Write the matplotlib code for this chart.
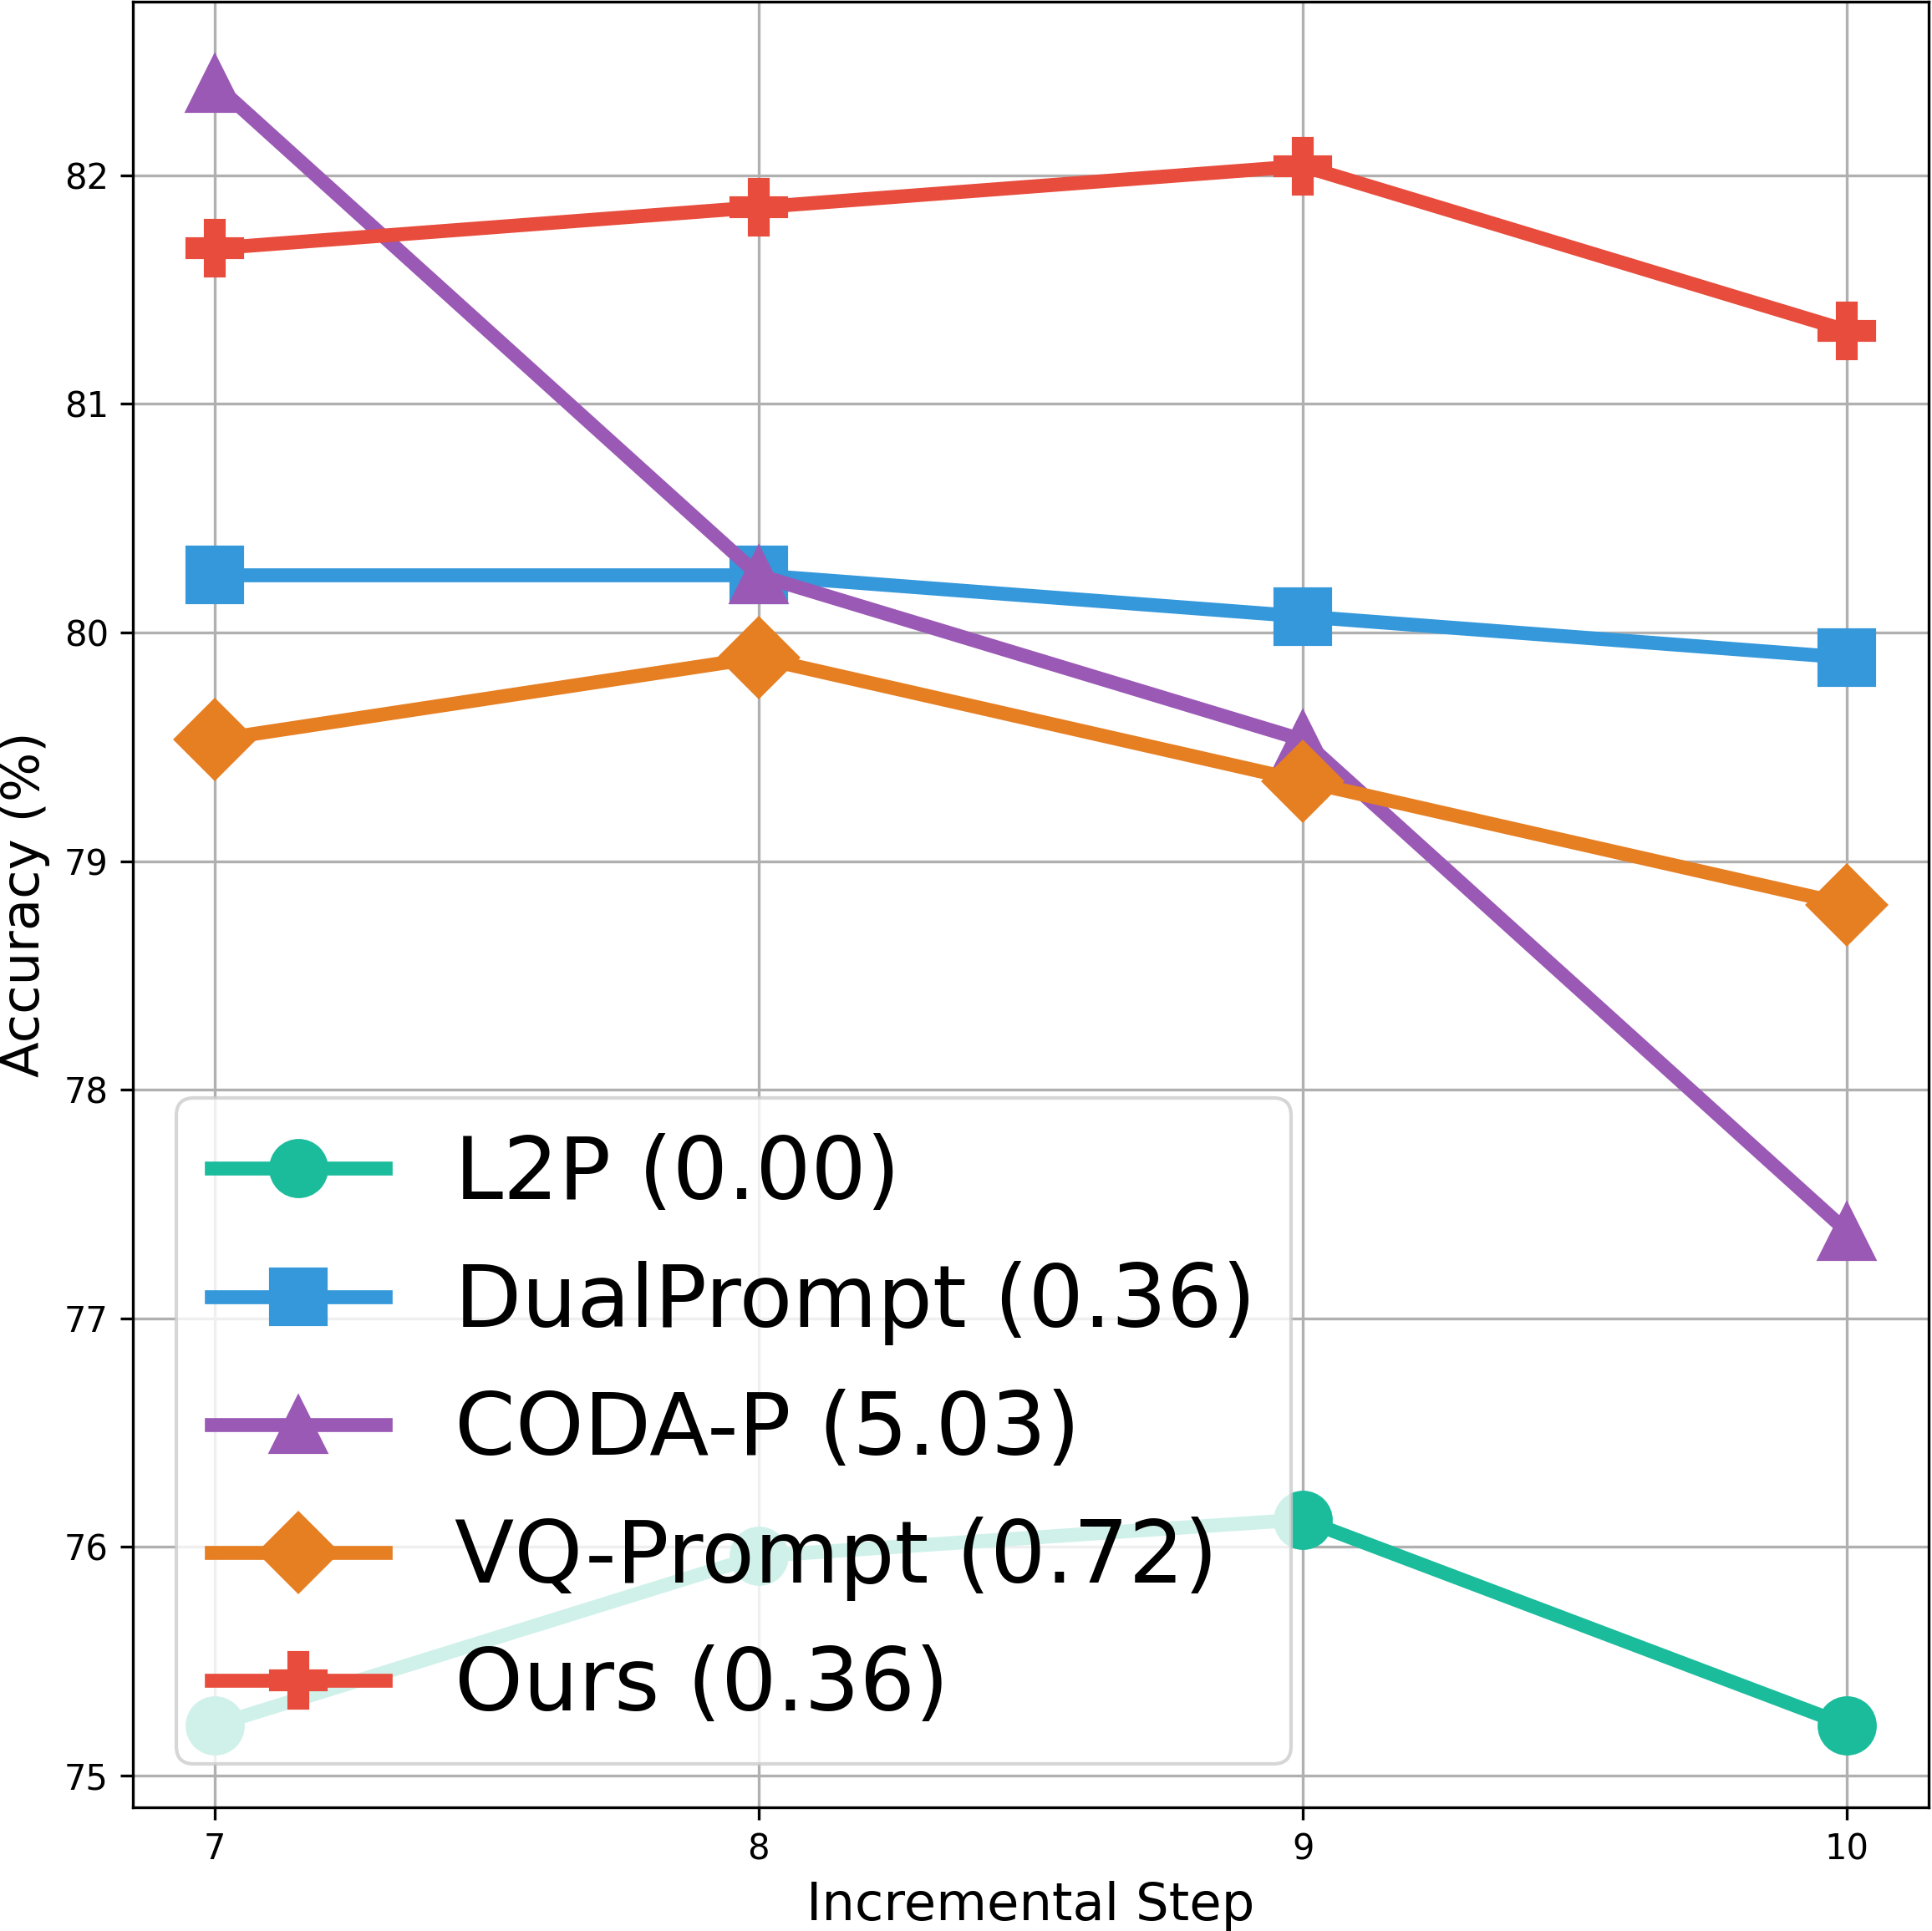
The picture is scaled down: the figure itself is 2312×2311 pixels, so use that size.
import numpy as np
import matplotlib
matplotlib.use("Agg")
import matplotlib.pyplot as plt

# incremental steps (x axis)
steps = [7, 8, 9, 10]

# accuracy per method (%)
l2p        = [75.22, 75.96, 76.12, 75.22]
dualprompt = [80.25, 80.25, 80.07, 79.89]
codap      = [82.40, 80.25, 79.53, 77.38]
vqprompt   = [79.53, 79.89, 79.35, 78.81]
ours       = [81.68, 81.86, 82.04, 81.32]

labels  = ['L2P (0.00)', 'DualPrompt (0.36)', 'CODA-P (5.03)', 'VQ-Prompt (0.72)', 'Ours (0.36)']
colors  = ['#1abc9c', '#3498db', '#9b59b6', '#e67e22', '#e74c3c']
markers = ['o', 's', '^', 'D', 'P']

fig = plt.figure(figsize=(2312/300, 2311/300), dpi=300)
ax = fig.add_axes([159/2312, 148/2311, (2308-159)/2312, (2309-148)/2311])

for ys, lab, c, m in zip([l2p, dualprompt, codap, vqprompt, ours], labels, colors, markers):
    ax.plot(steps, ys, color=c, marker=m, lw=4, ms=16, label=lab)

ax.set_xticks(steps)
ax.grid(True)
ax.set_xlabel('Incremental Step', fontsize=15)
ax.set_ylabel('Accuracy (%)', fontsize=15)
ax.legend(loc='lower left', fontsize=25)

fig.savefig('out.png', dpi=300)
